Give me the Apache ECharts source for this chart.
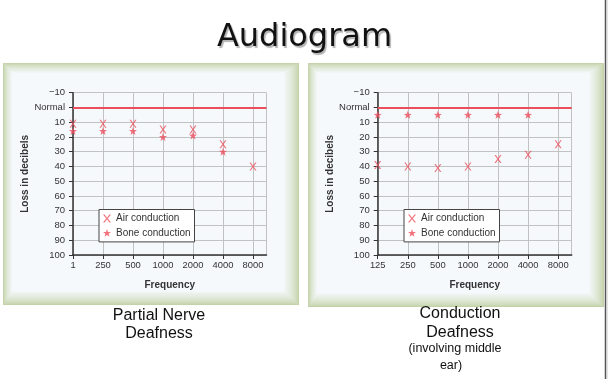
<!DOCTYPE html>
<html><head><meta charset="utf-8">
<script src="https://cdn.jsdelivr.net/npm/echarts@6/dist/echarts.min.js"></script>
<style>html,body{margin:0;padding:0;background:#fff}#c{width:609px;height:379px}</style>
</head><body><div id="c"></div>
<script>
// ---- data ----
const leftCategories = ['1','250','500','1000','2000','4000','8000'];
const rightCategories = ['125','250','500','1000','2000','4000','8000'];
const leftAir  = [11, 11, 11, 15, 15, 25, 40];
const leftBone = [16, 16, 16, 20, 19, 30, null];
const rightAir  = [39, 40, 41, 40, 35, 32, 25];
const rightBone = [5, 5, 5, 5, 5, 5, null];
const yMin = -10, yMax = 100, yStep = 10;
const normalLevel = 0;
const titleText = 'Audiogram';
const leftCaption = ['Partial Nerve', 'Deafness'];
const rightCaption = ['Conduction', 'Deafness'];
const rightSubCaption = ['(involving middle', 'ear)'];

// ---- styling ----
const RED = '#ec4f5c';
const X_PATH = 'path://M0,0L2,0L5,4L8,0L10,0L6,5L10,10L8,10L5,6L2,10L0,10L4,5Z';
const STAR_PATH = 'path://M10,0L12.35,6.76L19.51,6.91L13.8,11.24L15.88,18.09L10,14L4.12,18.09L6.2,11.24L0.49,6.91L7.65,6.76Z';
const FONT = '"Liberation Sans", Arial, sans-serif';

function pts(arr){ const out=[]; arr.forEach((v,i)=>{ if(v!==null) out.push([i,v]); }); return out; }

function xAxisFor(gridIndex, cats){
  return {
    type:'value', gridIndex, min:0, max:6.45, interval:1,
    axisLine:{show:true, onZero:false, lineStyle:{color:'#333', width:1.5}},
    axisTick:{show:true, length:4, lineStyle:{color:'#333'}},
    splitLine:{show:true, lineStyle:{color:'#c2c2c2', width:1}},
    axisLabel:{fontFamily:FONT, fontSize:9.4, color:'#333', margin:6, showMaxLabel:false,
      formatter:v=> (Number.isInteger(v) && cats[v]!==undefined) ? cats[v] : ''},
    name:'Frequency', nameLocation:'middle', nameGap:25,
    nameTextStyle:{fontFamily:FONT, fontSize:10, fontWeight:'bold', color:'#333'}
  };
}
function yAxisFor(gridIndex){
  return {
    type:'value', gridIndex, min:yMin, max:yMax, interval:yStep, inverse:true,
    axisLine:{show:true, onZero:false, lineStyle:{color:'#333', width:1.5}},
    axisTick:{show:true, length:4, lineStyle:{color:'#333'}},
    splitLine:{show:true, lineStyle:{color:'#c2c2c2', width:1}},
    axisLabel:{fontFamily:FONT, fontSize:9.5, color:'#333', margin:8,
      formatter:v=> v===normalLevel ? 'Normal' : (v<0 ? '\u2212'+Math.abs(v) : String(v))},
    name:'Loss in decibels', nameLocation:'middle', nameGap:37, nameRotate:90,
    nameTextStyle:{fontFamily:FONT, fontSize:10, fontWeight:'bold', color:'#333'}
  };
}
function seriesFor(idx, air, bone){
  return [
    {type:'scatter', name:'Air conduction', xAxisIndex:idx, yAxisIndex:idx, data:pts(air),
     symbol:X_PATH, symbolSize:[7,8], itemStyle:{color:RED}, z:5,
     markLine:{silent:true, symbol:'none', label:{show:false},
       lineStyle:{color:RED, width:2, type:'solid'}, data:[{yAxis:normalLevel}]}},
    {type:'scatter', name:'Bone conduction', xAxisIndex:idx, yAxisIndex:idx, data:pts(bone),
     symbol:STAR_PATH, symbolSize:8, itemStyle:{color:RED}, z:5}
  ];
}
function legendFor(left){
  return {
    left, top:209.5, orient:'vertical', itemWidth:8, itemHeight:10, itemGap:4.4,
    padding:[4,4,4,4], backgroundColor:'#fff', borderColor:'#444', borderWidth:1,
    selectedMode:false,
    textStyle:{fontFamily:FONT, fontSize:10, color:'#333'},
    data:[{name:'Air conduction', icon:X_PATH}, {name:'Bone conduction', icon:STAR_PATH}]
  };
}

// decorative panel frames (nested rects fading from green edge to light interior)
function lerp(a,b,t){return Math.round(a+(b-a)*t);}
function mix(c1,c2,t){
  const p=s=>[parseInt(s.slice(1,3),16),parseInt(s.slice(3,5),16),parseInt(s.slice(5,7),16)];
  const a=p(c1), b=p(c2);
  return 'rgb('+lerp(a[0],b[0],t)+','+lerp(a[1],b[1],t)+','+lerp(a[2],b[2],t)+')';
}
function panel(x,y,w,h){
  const els=[]; const N=12;
  for(let i=0;i<=N;i++){
    const t=i/N;
    const il=t*9, it=t*10, ir=t*15, ib=t*14;
    const col = mix('#c4d2a9', '#f6f9fc', Math.pow(t,0.75));
    els.push({type:'rect', silent:true, z:-10+i*0.01,
      shape:{x:x+il, y:y+it, width:w-il-ir, height:h-it-ib},
      style:{fill: i===N ? '#f6f9fc' : col}});
  }
  return els;
}

const graphics = [].concat(
  panel(3,63,296,242),
  panel(308,63,296,244),
  [
    {type:'text', left:'center', top:22, style:{text:titleText, font:'32px "DejaVu Sans", sans-serif', fill:'#111',
      textShadowColor:'rgba(0,0,0,0.3)', textShadowOffsetX:1.5, textShadowOffsetY:1.5, textShadowBlur:1}},
    {type:'text', x:159, y:316, style:{text:leftCaption[0], font:'16px '+FONT, fill:'#111', textAlign:'center', textVerticalAlign:'middle'}},
    {type:'text', x:159, y:334, style:{text:leftCaption[1], font:'16px '+FONT, fill:'#111', textAlign:'center', textVerticalAlign:'middle'}},
    {type:'text', x:460, y:314, style:{text:rightCaption[0], font:'16px '+FONT, fill:'#111', textAlign:'center', textVerticalAlign:'middle'}},
    {type:'text', x:460, y:333, style:{text:rightCaption[1], font:'16px '+FONT, fill:'#111', textAlign:'center', textVerticalAlign:'middle'}},
    {type:'text', x:455, y:349, style:{text:rightSubCaption[0], font:'12.5px '+FONT, fill:'#111', textAlign:'center', textVerticalAlign:'middle'}},
    {type:'text', x:451, y:366, style:{text:rightSubCaption[1], font:'12.5px '+FONT, fill:'#111', textAlign:'center', textVerticalAlign:'middle'}},
    {type:'line', silent:true, shape:{x1:605.5,y1:0,x2:605.5,y2:379}, style:{stroke:'#555', lineWidth:1.5}},
    {type:'line', silent:true, shape:{x1:607,y1:0,x2:607,y2:379}, style:{stroke:'#ccc', lineWidth:1}}
  ]
);

const chart = echarts.init(document.getElementById('c'), null, {renderer:'canvas'});
chart.setOption({
  animation:false,
  backgroundColor:'#fff',
  grid:[
    {left:73, top:92.7, width:193.5, height:162.3},
    {left:377.7, top:92.7, width:194, height:162.3}
  ],
  xAxis:[xAxisFor(0,leftCategories), xAxisFor(1,rightCategories)],
  yAxis:[yAxisFor(0), yAxisFor(1)],
  legend:[legendFor(99), legendFor(404)],
  series:[].concat(seriesFor(0,leftAir,leftBone), seriesFor(1,rightAir,rightBone)),
  graphic:graphics
});
</script></body></html>
